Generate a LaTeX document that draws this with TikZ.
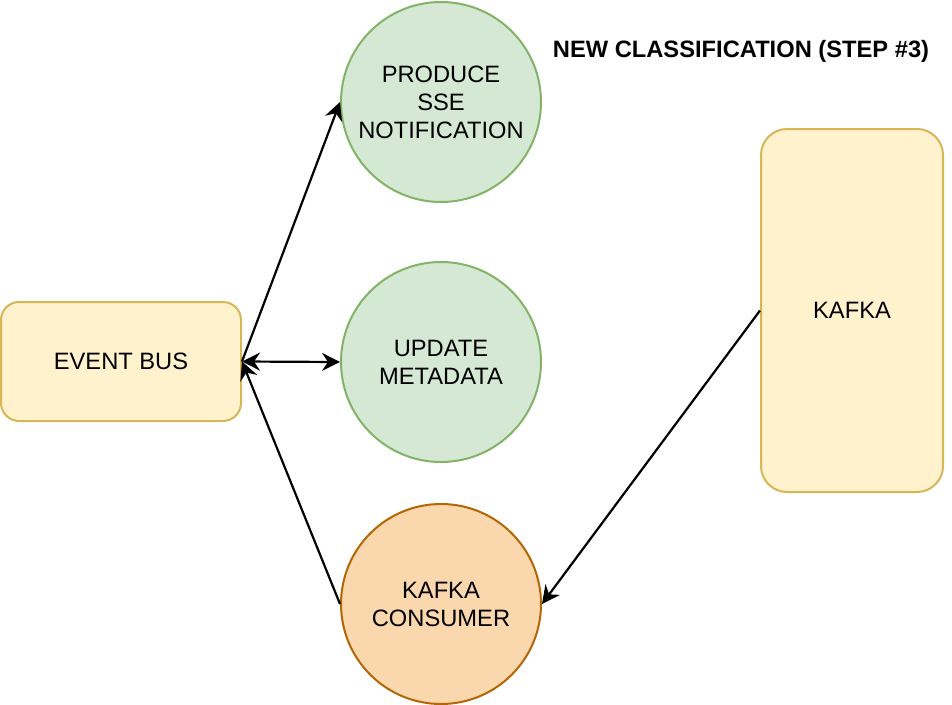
\documentclass[tikz,border=0pt]{standalone}
\usepackage{fontspec}
\setmainfont{Liberation Sans}
\usetikzlibrary{arrows.meta}
\usetikzlibrary{shapes}
\usepackage{xcolor}
\definecolor{grnfill}{HTML}{D5E8D4}
\definecolor{grnline}{HTML}{82B366}
\definecolor{ylwfill}{HTML}{FFF2CC}
\definecolor{ylwline}{HTML}{D6B656}
\definecolor{orgfill}{HTML}{FAD7AC}
\definecolor{orgline}{HTML}{B46504}
\begin{document}
\begin{tikzpicture}[x=1pt,y=-1pt,>={Stealth[length=18pt,width=18pt,inset=6pt]}]
                \tikzstyle{every node}=[font=\fontsize{23.7}{28}\selectfont,align=center,inner sep=0pt,line width=2pt]
                \tikzstyle{task}=[circle,draw=grnline,fill=grnfill,minimum size=200pt]
                \tikzstyle{store}=[rectangle,rounded corners=18pt,draw=ylwline,fill=ylwfill]
                \tikzstyle{arr}=[line width=2.2pt]
                \useasboundingbox (0,0) rectangle (952,704);
                \node[store,minimum width=240pt,minimum height=119pt] (bus) at (121,361.5) {EVENT BUS};
                \node[task] (sse) at (441,102) {PRODUCE\\SSE\\NOTIFICATION};
                \node[task] (meta) at (441,362) {UPDATE\\METADATA};
                \node[circle,draw=orgline,fill=orgfill,minimum size=200pt] (cons) at (441,604) {KAFKA\\CONSUMER};
                \node[store,rounded corners=26pt,minimum width=182pt,minimum height=363pt] (kafka) at (852,310.5) {KAFKA};
                \node[font=\bfseries\fontsize{23.7}{28}\selectfont] (title) at (741,51) {NEW CLASSIFICATION (STEP \#3)};

                \draw[arr,->] (bus.east) -- (sse.west);
                \draw[arr,<->] (bus.east) -- (meta.west);
                \draw[arr,->] (cons.west) -- (bus.east);
                \draw[arr,->] (kafka.west) -- (cons.east);
            \end{tikzpicture}
\end{document}
